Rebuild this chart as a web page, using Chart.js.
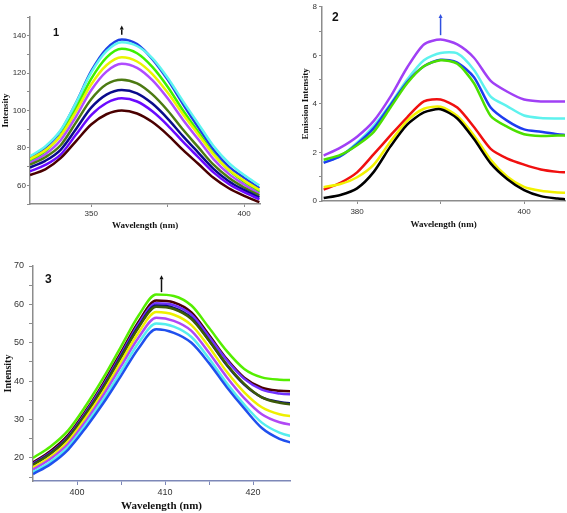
<!DOCTYPE html>
<html>
<head>
<meta charset="utf-8">
<script src="https://cdn.jsdelivr.net/npm/chart.js@4.4.1/dist/chart.umd.min.js"></script>
<style>
  html, body { margin: 0; padding: 0; background: #fff; }
  #page { position: relative; width: 567px; height: 513px; overflow: hidden; background: #fff; }
  canvas { position: absolute; }
  .plabel { position: absolute; font-family: "Liberation Sans", Arial, sans-serif; font-weight: bold; color: #111; line-height: 1; }
</style>
</head>
<body>
<div id="page">
  <canvas id="c1" width="270" height="240" style="left:0;top:0"></canvas>
  <canvas id="c2" width="287" height="240" style="left:280px;top:0"></canvas>
  <canvas id="c3" width="295" height="263" style="left:0;top:250px"></canvas>
  <div class="plabel" style="left:53px;top:27px;font-size:11px">1</div>
  <div class="plabel" style="left:332px;top:11px;font-size:12px">2</div>
  <div class="plabel" style="left:45px;top:273px;font-size:12px">3</div>
</div>
<script>
// ── Panel 1 data ────────────────────────────────────────────
const p1Wavelength = [330, 335, 340, 345, 350, 355, 360, 365, 370, 375, 380, 385, 390, 395, 400, 405];
const p1Blue   = [74.5, 80, 89, 104, 121, 133, 138, 135.5, 127.5, 116.5, 103.5, 91, 79, 70, 64, 58.5];
const p1Cyan   = [75.5, 80.8, 89.4, 103.9, 120.2, 131.7, 136.5, 134.5, 128, 117.5, 105, 93, 81, 72, 65.5, 60];
const p1Green  = [73, 78.2, 86.7, 100.9, 116.9, 128.3, 133, 130.6, 123.3, 112.7, 100.1, 88.5, 76.9, 68.1, 61.9, 56.5];
const p1Yellow = [74, 78.7, 86.4, 99.3, 113.9, 124.2, 128.5, 126.2, 119.5, 109.6, 98, 87.2, 76.4, 68.3, 62.5, 57.5];
const p1Violet = [72, 76.6, 84.1, 96.6, 110.8, 120.8, 125, 122.8, 116.2, 106.5, 95.1, 84.6, 74, 66.1, 60.4, 55.5];
const p1Olive  = [71, 75, 81.4, 93.5, 106, 114, 116.5, 114.5, 108.6, 100, 89.8, 80.4, 71, 64, 58.8, 54.5];
const p1Navy   = [69.5, 73.1, 79, 90, 101.5, 108.5, 111, 109.2, 103.7, 95.7, 86.3, 77.5, 68.8, 62.2, 57.5, 53.5];
const p1Indigo = [67.5, 70.9, 76.4, 87, 97.5, 104, 106.5, 104.8, 99.6, 92.1, 83.3, 75.1, 66.9, 60.7, 56.3, 52.5];
const p1Maroon = [65.5, 68.5, 74.5, 83.5, 92.5, 98, 100, 98.4, 93.8, 87, 78.9, 71.5, 64, 58.4, 54.4, 51];
const p1XTicks  = [350, 375, 400];
const p1XLabels = [350, 400];
const p1YTicks  = [50, 60, 70, 80, 90, 100, 110, 120, 130, 140, 150];
const p1YLabels = [60, 80, 100, 120, 140];

// ── Panel 2 data ────────────────────────────────────────────
const p2Wavelength = [376, 378, 380, 382, 384, 386, 388, 390, 392, 394, 396, 398, 400, 402, 404, 405];
const p2Purple = [1.87, 2.2, 2.65, 3.3, 4.3, 5.5, 6.45, 6.65, 6.45, 5.9, 4.95, 4.5, 4.18, 4.1, 4.1, 4.1];
const p2Cyan   = [1.6, 1.85, 2.4, 3.1, 4.0, 5.0, 5.8, 6.1, 6.08, 5.4, 4.3, 3.9, 3.52, 3.42, 3.4, 3.4];
const p2Green  = [1.7, 1.9, 2.3, 2.85, 3.85, 4.85, 5.55, 5.8, 5.65, 4.85, 3.5, 3.05, 2.75, 2.68, 2.7, 2.7];
const p2Blue   = [1.57, 1.85, 2.35, 3.0, 3.95, 4.9, 5.55, 5.82, 5.7, 5.1, 3.85, 3.3, 2.95, 2.85, 2.75, 2.72];
const p2Red    = [0.47, 0.75, 1.18, 1.93, 2.7, 3.45, 4.1, 4.18, 3.85, 3.05, 2.15, 1.75, 1.5, 1.3, 1.2, 1.18];
const p2Yellow = [0.57, 0.7, 0.98, 1.5, 2.45, 3.3, 3.8, 3.88, 3.5, 2.7, 1.7, 1.0, 0.58, 0.42, 0.35, 0.34];
const p2Black  = [0.12, 0.25, 0.52, 1.2, 2.25, 3.15, 3.65, 3.78, 3.4, 2.55, 1.55, 0.9, 0.45, 0.2, 0.1, 0.07];
const p2XTicks  = [380, 390, 400];
const p2XLabels = [380, 400];
const p2YTicks  = [0, 1, 2, 3, 4, 5, 6, 7, 8];
const p2YLabels = [0, 2, 4, 6, 8];

// ── Panel 3 data ────────────────────────────────────────────
const p3Wavelength = [395, 397, 399, 401, 403, 405, 407, 409, 411, 413, 415, 417, 419, 421, 423, 425];
const p3Green  = [20, 23.0, 27.2, 33.6, 40.9, 49.0, 57.1, 62.6, 62.2, 59.7, 53.9, 47.9, 43.2, 41.0, 40.4, 40.3];
const p3Maroon = [18.8, 21.8, 26.0, 32.3, 39.5, 47.5, 55.5, 61, 60.5, 57.9, 52.0, 45.8, 40.9, 38.3, 37.5, 37.3];
const p3Purple = [18.5, 21.4, 25.6, 31.9, 39.0, 46.9, 54.9, 60.3, 59.8, 57.3, 51.6, 45.5, 40.6, 37.8, 36.8, 36.5];
const p3Navy   = [18.3, 21.2, 25.3, 31.5, 38.6, 46.5, 54.3, 59.7, 59.1, 56.5, 50.6, 44.2, 39.1, 35.8, 34.6, 34.1];
const p3Olive  = [18.2, 21.1, 25.2, 31.4, 38.4, 46.2, 54.0, 59.4, 58.8, 56.2, 50.6, 44.4, 39.3, 35.8, 34.4, 33.8];
const p3Yellow = [17.5, 20.3, 24.4, 30.5, 37.3, 45.0, 52.7, 58, 57.3, 54.6, 48.9, 42.5, 37.1, 33.2, 31.4, 30.7];
const p3Violet = [17, 19.8, 23.7, 29.6, 36.4, 43.9, 51.4, 56.5, 55.7, 53.1, 47.4, 41.1, 35.6, 31.4, 29.3, 28.4];
const p3Cyan   = [16.3, 19.0, 22.9, 28.7, 35.3, 42.6, 50.0, 55, 54.2, 51.5, 45.9, 39.5, 33.9, 29.2, 26.6, 25.3];
const p3Blue   = [15.8, 18.4, 22.2, 27.9, 34.3, 41.4, 48.6, 53.5, 52.6, 50.0, 44.7, 38.5, 32.9, 27.8, 25.0, 23.6];
const p3XTicks  = [400, 405, 410, 415, 420];
const p3XLabels = [400, 410, 420];
const p3YTicks  = [15, 20, 25, 30, 35, 40, 45, 50, 55, 60, 65, 70];
const p3YLabels = [20, 30, 40, 50, 60, 70];

// ── Helpers ─────────────────────────────────────────────────
Chart.defaults.font.family = '"Liberation Sans", Arial, sans-serif';

function series(xs, ys, color) {
  return {
    data: xs.map((x, i) => ({ x, y: ys[i] })),
    borderColor: color,
    borderWidth: 2.5,
    pointRadius: 0,
    fill: false,
    clip: 0,
  };
}

// small up-arrow marking the rising peak
const arrowPlugin = {
  id: 'peakArrow',
  afterDatasetsDraw(chart, args, opts) {
    if (!opts || opts.x === undefined) return;
    const { ctx, scales } = chart;
    const px = scales.x.getPixelForValue(opts.x);
    const y0 = scales.y.getPixelForValue(opts.from);
    const y1 = scales.y.getPixelForValue(opts.to);
    const h = opts.head;
    ctx.save();
    ctx.strokeStyle = opts.color;
    ctx.fillStyle = opts.color;
    ctx.lineWidth = opts.width;
    ctx.beginPath();
    ctx.moveTo(px, y0);
    ctx.lineTo(px, y1 + h);
    ctx.stroke();
    ctx.beginPath();
    ctx.moveTo(px, y1);
    ctx.lineTo(px - h / 2, y1 + h);
    ctx.lineTo(px + h / 2, y1 + h);
    ctx.closePath();
    ctx.fill();
    ctx.restore();
  },
};

function axis(cfg) {
  return {
    type: 'linear',
    min: cfg.min,
    max: cfg.max,
    afterBuildTicks(scale) {
      scale.ticks = cfg.ticks.map(v => ({ value: v }));
    },
    afterFit(scale) {
      if (cfg.width !== undefined) scale.width = cfg.width;
      if (cfg.height !== undefined) scale.height = cfg.height;
    },
    border: { color: cfg.axisColor || '#8c8c8c', width: 1.5 },
    grid: { drawOnChartArea: false, tickLength: cfg.tickLength, color: cfg.axisColor || '#8c8c8c', lineWidth: 1 },
    ticks: {
      autoSkip: false,
      maxRotation: 0,
      padding: cfg.tickPad,
      color: '#333',
      font: { size: cfg.tickFont },
      callback: v => (cfg.labels.includes(v) ? String(v) : ''),
    },
    title: {
      display: true,
      text: cfg.title,
      color: '#111',
      font: { family: '"Liberation Serif", "Times New Roman", serif', weight: 'bold', size: cfg.titleFont },
      padding: cfg.titlePad,
    },
  };
}

function makePanel(id, datasets, o) {
  return new Chart(document.getElementById(id), {
    type: 'line',
    data: { datasets },
    plugins: [arrowPlugin],
    options: {
      responsive: false,
      animation: false,
      devicePixelRatio: 1,
      layout: { padding: o.padding },
      elements: { line: { tension: o.tension, cubicInterpolationMode: o.mode } },
      plugins: { legend: { display: false }, tooltip: { enabled: false }, peakArrow: o.arrow },
      scales: { x: axis(o.x), y: axis(o.y) },
    },
  });
}

// ── Panel 1 ─────────────────────────────────────────────────
makePanel('c1', [
  series(p1Wavelength, p1Maroon, '#4a0000'),
  series(p1Wavelength, p1Indigo, '#6a0aff'),
  series(p1Wavelength, p1Navy, '#0a0a8c'),
  series(p1Wavelength, p1Olive, '#4c7a12'),
  series(p1Wavelength, p1Violet, '#b04cff'),
  series(p1Wavelength, p1Yellow, '#eaf500'),
  series(p1Wavelength, p1Green, '#3ef000'),
  series(p1Wavelength, p1Cyan, '#5ff5f0'),
  series(p1Wavelength, p1Blue, '#1e40e6'),
], {
  padding: { left: 0, top: 17, right: 10, bottom: 0 },
  tension: 0.4, mode: 'monotone',
  arrow: { x: 360, from: 140.5, to: 145.5, color: '#111', width: 1.5, head: 4 },
  x: { min: 330, max: 405.2, ticks: p1XTicks, labels: p1XLabels, height: 36, tickLength: 3, tickPad: 2, tickFont: 8,
       title: 'Wavelength (nm)', titleFont: 9, titlePad: { top: 0, bottom: 9 } },
  y: { min: 50, max: 150, ticks: p1YTicks, labels: p1YLabels, width: 30, tickLength: 3, tickPad: 1, tickFont: 8,
       title: 'Intensity', titleFont: 9, titlePad: { top: 0, bottom: 0 } },
});

// ── Panel 2 ─────────────────────────────────────────────────
makePanel('c2', [
  series(p2Wavelength, p2Black, '#000000'),
  series(p2Wavelength, p2Yellow, '#f2f200'),
  series(p2Wavelength, p2Red, '#f01010'),
  series(p2Wavelength, p2Green, '#4ce000'),
  series(p2Wavelength, p2Blue, '#1e3cf0'),
  series(p2Wavelength, p2Cyan, '#5ef2ee'),
  series(p2Wavelength, p2Purple, '#a040f5'),
], {
  padding: { left: 0, top: 5, right: 2, bottom: 0 },
  tension: 0.25, mode: 'default',
  arrow: { x: 390, from: 6.83, to: 7.7, color: '#3050e0', width: 1.5, head: 4 },
  x: { min: 375.8, max: 404.9, ticks: p2XTicks, labels: p2XLabels, height: 39, tickLength: 3, tickPad: 3, tickFont: 8,
       title: 'Wavelength (nm)', titleFont: 9, titlePad: { top: 0, bottom: 10 } },
  y: { min: 0, max: 8, ticks: p2YTicks, labels: p2YLabels, width: 42, tickLength: 3, tickPad: 2, tickFont: 8,
       title: 'Emission Intensity', titleFont: 9, titlePad: { top: 20, bottom: 0 } },
});

// ── Panel 3 ─────────────────────────────────────────────────
makePanel('c3', [
  series(p3Wavelength, p3Blue, '#2050ee'),
  series(p3Wavelength, p3Cyan, '#55eeee'),
  series(p3Wavelength, p3Violet, '#b048f5'),
  series(p3Wavelength, p3Yellow, '#eef000'),
  series(p3Wavelength, p3Olive, '#3d5a08'),
  series(p3Wavelength, p3Navy, '#0a0a80'),
  series(p3Wavelength, p3Purple, '#7030ff'),
  series(p3Wavelength, p3Maroon, '#4a0000'),
  series(p3Wavelength, p3Green, '#55ee00'),
], {
  padding: { left: 0, top: 16, right: 5, bottom: 0 },
  tension: 0.4, mode: 'monotone',
  arrow: { x: 409.6, from: 63.2, to: 67.6, color: '#111', width: 1.5, head: 4 },
  x: { min: 395, max: 424.2, ticks: p3XTicks, labels: p3XLabels, height: 32, tickLength: 4, tickPad: 2, tickFont: 9,
       title: 'Wavelength (nm)', titleFont: 11, titlePad: { top: 0, bottom: 0 }, axisColor: '#7d88b8' },
  y: { min: 14, max: 70, ticks: p3YTicks, labels: p3YLabels, width: 33, tickLength: 4, tickPad: 5, tickFont: 9,
       title: 'Intensity', titleFont: 10, titlePad: { top: 2, bottom: 0 } },
});
</script>
</body>
</html>
